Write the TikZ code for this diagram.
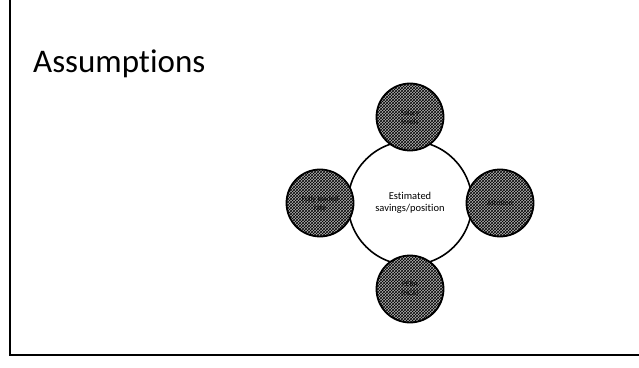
\documentclass[tikz,border=0pt]{standalone}
\usepackage{fontspec}
\setmainfont[Ligatures=NoCommon]{Carlito}
\usetikzlibrary{patterns}
\begin{document}
\begin{tikzpicture}[x=1pt,y=1pt,
  frame/.style={line width=1.5pt,draw=black},
  title/.style={font=\fontsize{33}{33}\selectfont,anchor=base west,inner sep=0pt},
  hub/.style={circle,draw=black,line width=1.6pt,minimum size=124pt,inner sep=0pt,align=center,
    font=\fontsize{10.5}{12}\selectfont},
  sat/.style={circle,draw=black,line width=1.8pt,minimum size=67pt,inner sep=0pt,align=center,
    font=\fontsize{7.5}{9}\selectfont,preaction={fill=gray!60},pattern=crosshatch,pattern color=black}]
\useasboundingbox (0,0) rectangle (639,367);
\coordinate (tl) at (10,367);
\coordinate (bl) at (10,12);
\coordinate (br) at (639,12);
\draw[frame] (tl) -- (bl) -- (br);
\node[title] (ttl) at (33,294) {Assumptions};
\node[hub] (hub) at (410,164) {Estimated\\savings/position};
\node[sat] (top) at (410,250) {Salary\\levels};
\node[sat] (left) at (320,164) {Fully loaded\\rate};
\node[sat] (right) at (500,164) {Attrition};
\node[sat] (bottom) at (410,78) {PERA\\(HCA)};
\end{tikzpicture}
\end{document}
